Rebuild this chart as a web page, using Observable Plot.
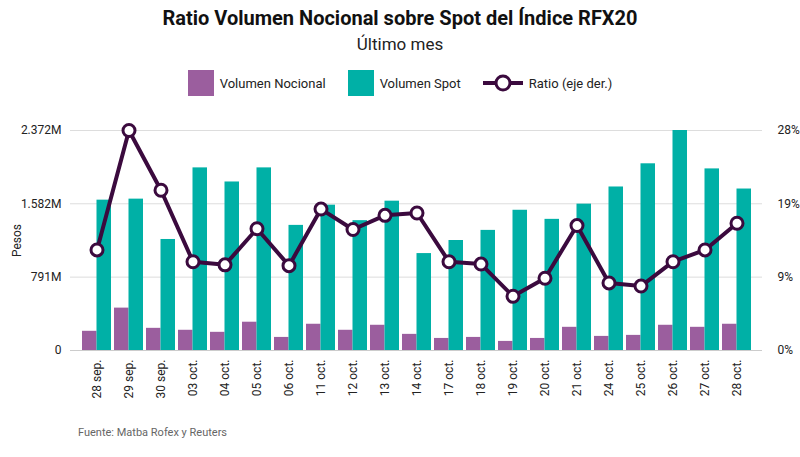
<!DOCTYPE html>
<html><head><meta charset="utf-8">
<script src="https://cdn.jsdelivr.net/npm/d3@7"></script>
<script src="https://cdn.jsdelivr.net/npm/@observablehq/plot@0.6"></script>
<style>
body{margin:0;font-family:Roboto,sans-serif;background:#fff;width:800px}
#t{text-align:center;font-size:20px;font-weight:bold;margin-top:6px;color:#111}
#s{text-align:center;font-size:17px;color:#222;margin-top:4px}
#lg{display:flex;justify-content:center;gap:22px;font-size:13px;margin-top:16px;height:26px;align-items:center;color:#222}
#lg span{display:flex;align-items:center;gap:6px}
#cap{font-size:11px;color:#666;margin-left:78px;margin-top:8px}
</style></head><body>
<div id="t">Ratio Volumen Nocional sobre Spot del Índice RFX20</div>
<div id="s">Último mes</div>
<div id="lg">
<span><i style="display:inline-block;width:26px;height:26px;background:#9b5e9e"></i>Volumen Nocional</span>
<span><i style="display:inline-block;width:26px;height:26px;background:#00b0a6"></i>Volumen Spot</span>
<span><svg width="40" height="20"><line x1="0" y1="10" x2="40" y2="10" stroke="#3b0a3e" stroke-width="4"/><circle cx="20" cy="10" r="7" fill="#fff" stroke="#3b0a3e" stroke-width="3"/></svg>Ratio (eje der.)</span>
</div>
<div id="c"></div>
<div id="cap">Fuente: Matba Rofex y Reuters</div>
<script>
const dates=["28 sep.","29 sep.","30 sep.","03 oct.","04 oct.","05 oct.","06 oct.","11 oct.","12 oct.","13 oct.","14 oct.","17 oct.","18 oct.","19 oct.","20 oct.","21 oct.","24 oct.","25 oct.","26 oct.","27 oct.","28 oct."];
const spot=[1621,1632,1197,1969,1817,1969,1349,1567,1400,1610,1045,1186,1295,1512,1414,1578,1763,2013,2372,1958,1741];
const nocional=[207,457,239,218,196,305,141,283,218,272,174,130,141,98,130,250,152,163,272,250,283];
const ratio=[12.8,28,20.4,11.3,10.9,15.5,10.8,18.0,15.4,17.2,17.5,11.3,11.0,6.9,9.2,15.9,8.6,8.2,11.3,12.8,16.2];
const leftTicks=[0,791,1582,2372];
const leftLabels=["0","791M","1.582M","2.372M"];
const rightLabels=["0%","9%","19%","28%"];
const k=2372/28;
const rows=dates.map((d,i)=>({d,s:spot[i],n:nocional[i],r:ratio[i]*k}));
const plot=Plot.plot({
 width:800,height:322,marginLeft:70,marginRight:38,marginTop:34,marginBottom:68,
 style:{fontFamily:"Roboto",fontSize:"12px",color:"#222"},
 x:{domain:dates,padding:0.1},
 y:{domain:[0,2372]},
 marks:[
  Plot.gridY(leftTicks,{stroke:"#ddd",strokeOpacity:1}),
  Plot.axisY({ticks:leftTicks,tickFormat:(v)=>leftLabels[leftTicks.indexOf(v)],tickSize:0,label:"Pesos",labelAnchor:"center",labelArrow:"none",labelOffset:58,fontSize:12}),
  Plot.axisY({anchor:"right",ticks:leftTicks,tickFormat:(v)=>rightLabels[leftTicks.indexOf(v)],tickSize:0,dx:6,label:null,fontSize:12}),
  Plot.axisX({tickRotate:-90,tickSize:0,label:null,fontSize:12}),
  Plot.barY(rows,{x:"d",y:"n",fill:"#9b5e9e",insetRight:14.5}),
  Plot.barY(rows,{x:"d",y:"s",fill:"#00b0a6",insetLeft:14.5}),
  Plot.ruleY([0],{stroke:"#ccc"}),
  Plot.line(rows,{x:"d",y:"r",stroke:"#3b0a3e",strokeWidth:4}),
  Plot.dot(rows,{x:"d",y:"r",r:6,fill:"#fff",stroke:"#3b0a3e",strokeWidth:3})
 ]
});
document.getElementById("c").append(plot);
</script>
</body></html>
